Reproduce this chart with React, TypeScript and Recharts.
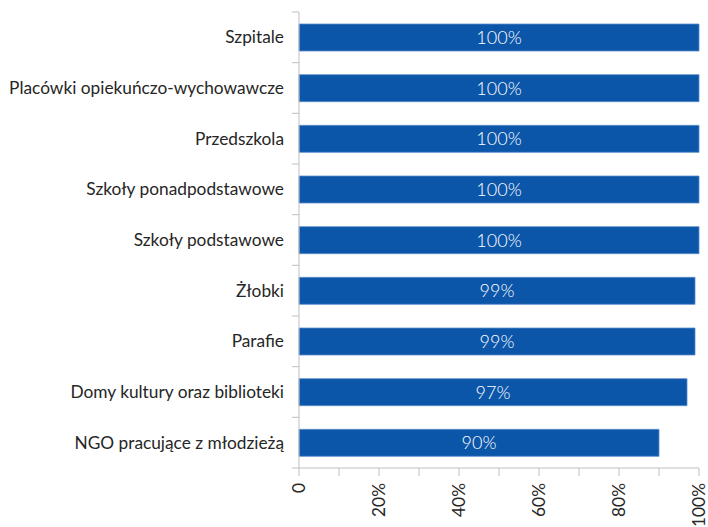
import React from "react";
import { BarChart, Bar, XAxis, YAxis, LabelList } from "recharts";

const categories = [
  "Szpitale",
  "Placówki opiekuńczo-wychowawcze",
  "Przedszkola",
  "Szkoły ponadpodstawowe",
  "Szkoły podstawowe",
  "Żłobki",
  "Parafie",
  "Domy kultury oraz biblioteki",
  "NGO pracujące z młodzieżą",
];
const values = [100, 100, 100, 100, 100, 99, 99, 97, 90];
const xTicks = [0, 10, 20, 30, 40, 50, 60, 70, 80, 90, 100];
const xTickLabels: Record<number, string> = { 0: "0", 20: "20%", 40: "40%", 60: "60%", 80: "80%", 100: "100%" };

const data = categories.map((name, i) => ({ name, value: values[i] }));

const W = 708;
const H = 527;
const TOP = 12;
const XAXIS_H = 59;
const BAND = (H - TOP - XAXIS_H) / categories.length;
const FONT = "Lato, 'Open Sans', sans-serif";
const AXIS_COLOR = "#bfbfbf";

const YTick = (props: any) => {
  const { x, y, payload, index } = props;
  return (
    <g>
      <line x1={x - 7} x2={x} y1={y - BAND / 2} y2={y - BAND / 2} stroke={AXIS_COLOR} />
      {index === categories.length - 1 && (
        <line x1={x - 7} x2={x} y1={y + BAND / 2} y2={y + BAND / 2} stroke={AXIS_COLOR} />
      )}
      <text x={x - 15} y={y} dy="0.35em" textAnchor="end" fill="#262626" fontSize={17.3} fontFamily={FONT}>
        {payload.value}
      </text>
    </g>
  );
};

const XTick = (props: any) => {
  const { x, y, payload } = props;
  const label = xTickLabels[payload.value];
  if (label === undefined) return null;
  return (
    <g transform={`translate(${x},${y})`}>
      <text transform="rotate(-90)" x={-7} y={0} dy="0.35em" textAnchor="end" fill="#262626" fontSize={17.3} fontFamily={FONT}>
        {label}
      </text>
    </g>
  );
};

export default function App() {
  return (
    <div style={{ position: "absolute", left: 0, top: 0, width: W, height: H, background: "#fff" }}>
      <BarChart
        width={W}
        height={H}
        data={data}
        layout="vertical"
        margin={{ top: TOP, right: 9, bottom: 0, left: 0 }}
        barSize={27}
      >
        <XAxis
          type="number"
          domain={[0, 100]}
          ticks={xTicks}
          interval={0}
          height={XAXIS_H}
          stroke={AXIS_COLOR}
          tickSize={8}
          tickMargin={0}
          tick={<XTick />}
        />
        <YAxis
          type="category"
          dataKey="name"
          width={299}
          stroke={AXIS_COLOR}
          tickLine={false}
          tickSize={0}
          tickMargin={0}
          interval={0}
          tick={<YTick />}
        />
        <Bar dataKey="value" fill="#0c56a9" stroke="#5a8ccc" strokeWidth={0.8} isAnimationActive={false}>
          <LabelList
            dataKey="value"
            position="center"
            fill="#ffffff"
            fontSize={18}
            fontWeight={300}
            fontFamily={FONT}
            formatter={(v: any) => `${v}%`}
          />
        </Bar>
      </BarChart>
    </div>
  );
}
